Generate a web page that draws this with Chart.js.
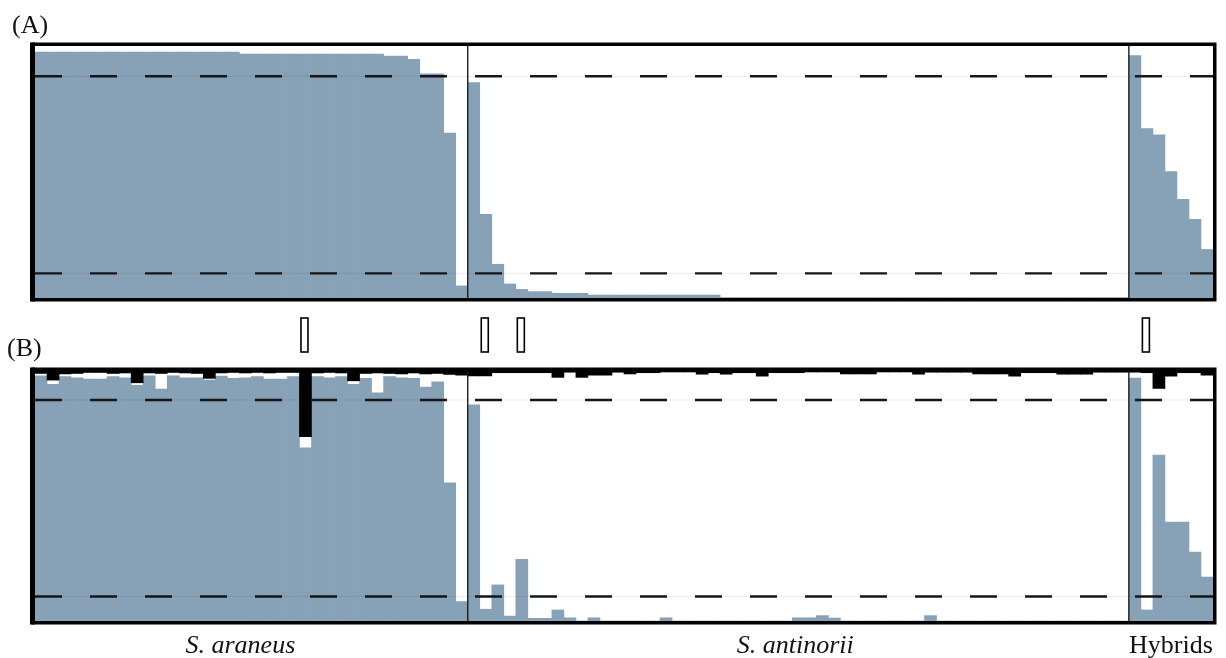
<!DOCTYPE html>
<html>
<head>
<meta charset="utf-8">
<title>Assignment probabilities</title>
<script src="https://cdn.jsdelivr.net/npm/chart.js@4.4.1/dist/chart.umd.min.js"></script>
<style>
  html, body { margin: 0; padding: 0; background: #ffffff; }
  #wrap { position: relative; width: 1226px; height: 658px; }
  #wrap canvas { position: absolute; left: 0; top: 0; }
</style>
</head>
<body>
<div id="wrap">
  <canvas id="panelA" width="1226" height="658"></canvas>
  <canvas id="panelB" width="1226" height="658"></canvas>
</div>
<script>
// ---- groups of individuals, in plotting order ----
const groupNames = ['S. araneus', 'S. antinorii', 'Hybrids'];
const groupItalic = [true, true, false];
const groupSizes = [36, 55, 7];

// ---- (A) membership in the S. araneus cluster ----
const qA_araneus = [
  0.998, 0.998, 0.998, 0.998, 0.998, 0.998, 0.998, 0.998, 0.998, 0.998, 0.998, 0.998,
  0.998, 0.998, 0.998, 0.998, 0.998, 0.99, 0.99, 0.99, 0.99, 0.99, 0.99, 0.99,
  0.99, 0.99, 0.99, 0.99, 0.99, 0.982, 0.982, 0.969, 0.91, 0.91, 0.67, 0.049
];
const qA_antinorii = [
  0.874, 0.34, 0.137, 0.057, 0.035, 0.026, 0.026, 0.019, 0.019, 0.019,
  0.012, 0.012, 0.012, 0.012, 0.012, 0.012, 0.012, 0.012, 0.012, 0.012, 0.012,
  0.002, 0.002, 0.002, 0.002, 0.002, 0.002, 0.002, 0.002, 0.002, 0.002, 0.002, 0.002,
  0.002, 0.002, 0.002, 0.002, 0.002, 0.002, 0.002, 0.002, 0.002, 0.002, 0.002, 0.002,
  0.002, 0.002, 0.002, 0.002, 0.002, 0.002, 0.002, 0.002, 0.002, 0.002
];
const qA_hybrids = [0.984, 0.688, 0.662, 0.513, 0.401, 0.319, 0.197];

// ---- (B) membership (blue) and interval width hanging from the top (black) ----
const qB_araneus = [
  0.998, 0.964, 0.995, 0.99, 0.985, 0.985, 0.995, 0.99, 0.96, 0.998, 0.944, 0.998,
  0.99, 0.99, 0.981, 0.997, 0.988, 0.99, 0.995, 0.985, 0.985, 0.995, 0.705, 0.995,
  0.99, 0.995, 0.964, 0.988, 0.929, 0.995, 0.99, 0.988, 0.953, 0.974, 0.563, 0.079
];
const qB_antinorii = [
  0.88, 0.048, 0.147, 0.02, 0.251, 0.011, 0.011, 0.045, 0.013, 0, 0.013,
  0, 0, 0, 0, 0, 0.013, 0, 0, 0, 0, 0, 0, 0, 0, 0, 0,
  0.013, 0.013, 0.022, 0.012, 0, 0, 0, 0, 0, 0, 0, 0.022,
  0, 0, 0, 0, 0, 0, 0, 0, 0, 0, 0, 0, 0, 0, 0, 0
];
const qB_hybrids = [0.989, 0.045, 0.676, 0.403, 0.403, 0.281, 0.179];

const dB_araneus = [
  0.01, 0.037, 0.012, 0.01, 0.006, 0.006, 0.01, 0.008, 0.048, 0.008, 0.01, 0.006,
  0.008, 0.01, 0.03, 0.008, 0.006, 0.008, 0.006, 0.008, 0.006, 0.006, 0.267, 0.008,
  0.006, 0.008, 0.04, 0.01, 0.008, 0.01, 0.012, 0.008, 0.012, 0.01, 0.014, 0.017
];
const dB_antinorii = [
  0.02, 0.02, 0.007, 0.007, 0.007, 0.007, 0.007, 0.026, 0.005, 0.026, 0.017, 0.017,
  0.005, 0.012, 0.007, 0.007, 0.004, 0.004, 0.004, 0.013, 0.007, 0.013, 0.007, 0.007,
  0.021, 0.007, 0.007, 0.007, 0.004, 0.004, 0.004, 0.012, 0.012, 0.012, 0.004, 0.004,
  0.004, 0.013, 0.005, 0.005, 0.005, 0.005, 0.012, 0.012, 0.012, 0.021, 0.007, 0.007,
  0.007, 0.013, 0.013, 0.013, 0.005, 0.005, 0.005
];
const dB_hybrids = [0.005, 0.007, 0.071, 0.021, 0.007, 0.007, 0.017];

// individuals flagged above panel (B) (positions in plotting order)
const flagged = [22, 37, 40, 92];

// assignment thresholds
const thresholds = [0.9, 0.1];

// axis ranges of the two panels
const rangeA = { min: 0, max: 1.023 };
const rangeB = { min: 0, max: 1.018 };

// ---- assembled series ----
const total = groupSizes.reduce((s, n) => s + n, 0);
const individuals = Array.from({ length: total }, (_, i) => String(i + 1));
const qA = [...qA_araneus, ...qA_antinorii, ...qA_hybrids];
const qB = [...qB_araneus, ...qB_antinorii, ...qB_hybrids];
const dB = [...dB_araneus, ...dB_antinorii, ...dB_hybrids];

const BLUE = '#87a1b6';
const INK = '#111111';
const SERIF = '"Liberation Serif", "Times New Roman", "DejaVu Serif", serif';

// frame, threshold guides, group dividers, flags and text
const panelDecor = {
  id: 'panelDecor',
  afterDatasetsDraw(chart, args, opts) {
    const { ctx, chartArea: a, scales } = chart;
    const xs = scales.x, ys = scales.y;
    ctx.save();

    // threshold guides: faint solid line under a dashed line
    thresholds.forEach(t => {
      const py = ys.getPixelForValue(t);
      ctx.setLineDash([]);
      ctx.strokeStyle = 'rgba(0,0,0,0.08)';
      ctx.lineWidth = 1;
      ctx.beginPath(); ctx.moveTo(a.left, py); ctx.lineTo(a.right, py); ctx.stroke();
      ctx.setLineDash([27, 28]);
      ctx.strokeStyle = '#161616';
      ctx.lineWidth = 2.4;
      ctx.beginPath(); ctx.moveTo(a.left, py); ctx.lineTo(a.right, py); ctx.stroke();
    });
    ctx.setLineDash([]);

    // dividers between groups
    let start = 0;
    const bounds = [];
    groupSizes.forEach(n => {
      const half = xs.width / total / 2;
      bounds.push([xs.getPixelForValue(start) - half, xs.getPixelForValue(start + n - 1) + half]);
      start += n;
    });
    ctx.strokeStyle = '#1c1c1c';
    ctx.lineWidth = 1.4;
    for (let g = 1; g < bounds.length; g++) {
      const px = bounds[g][0];
      ctx.beginPath(); ctx.moveTo(px, a.top); ctx.lineTo(px, a.bottom); ctx.stroke();
    }

    // frame with a heavier left edge
    ctx.strokeStyle = '#000';
    ctx.lineWidth = 3.5;
    ctx.strokeRect(a.left - 1.75, a.top - 1.75, a.width + 3.5, a.height + 3.5);
    ctx.fillStyle = '#000';
    ctx.fillRect(a.left - 5, a.top - 3.5, 5, a.height + 7);

    // panel letter
    ctx.fillStyle = INK;
    ctx.font = '26px ' + SERIF;
    ctx.textBaseline = 'alphabetic';
    ctx.textAlign = 'left';
    ctx.fillText(opts.letter, opts.letterX, opts.letterY);

    // flags above the panel
    if (opts.flags) {
      ctx.lineWidth = 1.6;
      ctx.strokeStyle = '#000';
      ctx.fillStyle = '#fff';
      flagged.forEach(i => {
        const cx = xs.getPixelForValue(i) - 1;
        ctx.fillRect(cx - 3.5, opts.flagTop, 7, opts.flagHeight);
        ctx.strokeRect(cx - 3.5, opts.flagTop, 7, opts.flagHeight);
      });
    }

    // group names below the panel
    if (opts.groupLabels) {
      const shift = [-11, -3, 0];
      ctx.fillStyle = INK;
      ctx.textAlign = 'center';
      groupNames.forEach((name, g) => {
        ctx.font = (groupItalic[g] ? 'italic ' : '') + '26px ' + SERIF;
        const cx = (bounds[g][0] + bounds[g][1]) / 2 + shift[g];
        ctx.fillText(name, cx, opts.groupLabelY);
      });
    }
    ctx.restore();
  }
};

function barSet(data, color) {
  return {
    data,
    backgroundColor: color,
    borderWidth: 0,
    barPercentage: 1,
    categoryPercentage: 1,
    grouped: false
  };
}

function baseOptions(range, padding, decor) {
  return {
    responsive: false,
    animation: false,
    events: [],
    layout: { padding },
    scales: {
      x: { type: 'category', display: false, grid: { display: false } },
      y: { display: false, min: range.min, max: range.max, grid: { display: false } }
    },
    plugins: {
      legend: { display: false },
      tooltip: { enabled: false },
      panelDecor: decor
    }
  };
}

// panel (A)
new Chart(document.getElementById('panelA'), {
  type: 'bar',
  data: { labels: individuals, datasets: [barSet(qA, BLUE)] },
  options: baseOptions(rangeA, { left: 35, right: 13, top: 46, bottom: 360 },
    { letter: '(A)', letterX: 12, letterY: 33, flags: false, groupLabels: false }),
  plugins: [panelDecor]
});

// panel (B): black interval bars hang from the top of the axis
const topB = rangeB.max;
new Chart(document.getElementById('panelB'), {
  type: 'bar',
  data: {
    labels: individuals,
    datasets: [
      barSet(dB.map(d => [topB - d, topB]), '#000000'),
      barSet(qB, BLUE)
    ]
  },
  options: baseOptions(rangeB, { left: 35, right: 13, top: 371, bottom: 37 },
    { letter: '(B)', letterX: 7, letterY: 356, flags: true, flagTop: 318, flagHeight: 34,
      groupLabels: true, groupLabelY: 653 }),
  plugins: [panelDecor]
});
</script>
</body>
</html>
